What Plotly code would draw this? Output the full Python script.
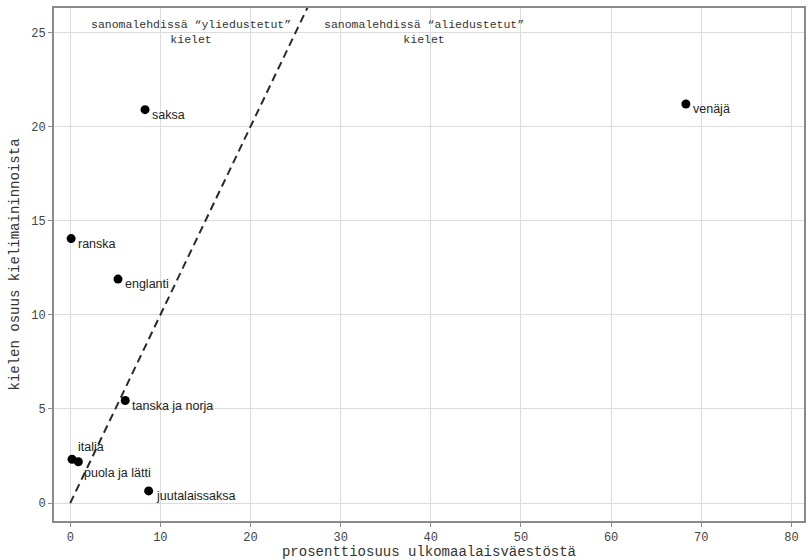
import plotly.graph_objects as go

# Share of foreign-born population vs. share of language mentions in newspapers
languages = ["saksa", "venäjä", "ranska", "englanti", "tanska ja norja",
             "italia", "puola ja lätti", "juutalaissaksa"]
pop_share = [8.3, 68.3, 0.1, 5.3, 6.1, 0.2, 0.9, 8.7]
mention_share = [20.9, 21.2, 14.05, 11.9, 5.45, 2.33, 2.2, 0.65]

x_ticks = [0, 10, 20, 30, 40, 50, 60, 70, 80]
y_ticks = [0, 5, 10, 15, 20, 25]

# parity line y = x
parity_x = [0, 30]
parity_y = [0, 30]

mono = "Courier New, Liberation Mono, monospace"
sans = "Liberation Sans, Arial, sans-serif"

fig = go.Figure()
fig.add_trace(go.Scatter(
    x=parity_x, y=parity_y, mode="lines",
    line=dict(color="#2a2a2a", width=2, dash="8px,5px"),
    hoverinfo="skip", showlegend=False,
))
fig.add_trace(go.Scatter(
    x=pop_share, y=mention_share, mode="markers",
    marker=dict(color="black", size=9),
    showlegend=False,
))

# label placement (pixel offsets from the point)
label_shift = {"italia": (4, 12), "puola ja lätti": (4, -11)}
for name, xv, yv in zip(languages, pop_share, mention_share):
    dx, dy = label_shift.get(name, (5, -5))
    fig.add_annotation(
        x=xv, y=yv, text=name, showarrow=False,
        xanchor="left", yanchor="middle", xshift=dx, yshift=dy,
        font=dict(family=sans, size=12.5, color="#222222"),
    )

fig.add_annotation(
    x=13.4, y=25.05, text="sanomalehdissä \u201cyliedustetut\u201d<br>kielet",
    showarrow=False, xanchor="center", yanchor="middle",
    font=dict(family=mono, size=11.5, color="#333333"),
)
fig.add_annotation(
    x=39.2, y=25.05, text="sanomalehdissä \u201caliedustetut\u201d<br>kielet",
    showarrow=False, xanchor="center", yanchor="middle",
    font=dict(family=mono, size=11.5, color="#333333"),
)

axis_common = dict(
    showgrid=True, gridcolor="#dcdcdc", gridwidth=1,
    zeroline=False, showline=True, linecolor="#8a8a8a", linewidth=2,
    mirror=True, ticks="outside", ticklen=4, tickcolor="#8a8a8a",
    tickfont=dict(family=mono, size=12, color="#444444"),
)

fig.update_layout(
    width=809, height=560,
    margin=dict(l=54, r=3, t=8, b=37),
    plot_bgcolor="white", paper_bgcolor="white",
    xaxis=dict(
        range=[-1.8, 81.4], tickvals=x_ticks,
        title=dict(text="prosenttiosuus ulkomaalaisväestöstä", standoff=2,
                   font=dict(family=mono, size=14, color="#333333")),
        **axis_common,
    ),
    yaxis=dict(
        range=[-0.95, 26.3], tickvals=y_ticks,
        title=dict(text="kielen osuus kielimaininnoista", standoff=8,
                   font=dict(family=mono, size=14, color="#333333")),
        **axis_common,
    ),
)

fig.write_html("out.html")
